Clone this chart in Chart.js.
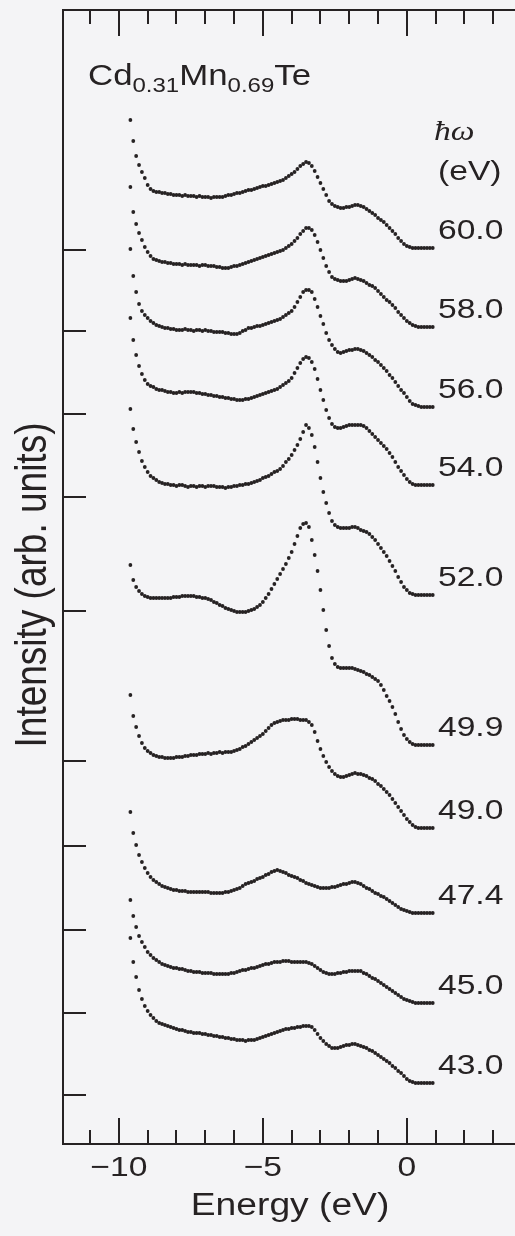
<!DOCTYPE html>
<html>
<head>
<meta charset="utf-8">
<script src="https://cdn.jsdelivr.net/npm/chart.js@4.4.1/dist/chart.umd.min.js"></script>
<style>
  html, body { margin: 0; padding: 0; background: #f4f4f6; overflow: hidden; }
  canvas { display: block; }
</style>
</head>
<body>
<canvas id="c" width="515" height="1236"></canvas>
<script>
// Binding energy grid (eV), shared by all spectra
const energies = [
  -9.6,-9.5,-9.4,-9.3,-9.2,-9.1,-9.0,-8.9,-8.8,-8.7,
  -8.6,-8.5,-8.4,-8.3,-8.2,-8.1,-8.0,-7.9,-7.8,-7.7,
  -7.6,-7.5,-7.4,-7.3,-7.2,-7.1,-7.0,-6.9,-6.8,-6.7,
  -6.6,-6.5,-6.4,-6.3,-6.2,-6.1,-6.0,-5.9,-5.8,-5.7,
  -5.6,-5.5,-5.4,-5.3,-5.2,-5.1,-5.0,-4.9,-4.8,-4.7,
  -4.6,-4.5,-4.4,-4.3,-4.2,-4.1,-4.0,-3.9,-3.8,-3.7,
  -3.6,-3.5,-3.4,-3.3,-3.2,-3.1,-3.0,-2.9,-2.8,-2.7,
  -2.6,-2.5,-2.4,-2.3,-2.2,-2.1,-2.0,-1.9,-1.8,-1.7,
  -1.6,-1.5,-1.4,-1.3,-1.2,-1.1,-1.0,-0.9,-0.8,-0.7,
  -0.6,-0.5,-0.4,-0.3,-0.2,-0.1,0.0,0.1,0.2,0.3,
  0.4,0.5,0.6,0.7,0.8,0.9
];

// Photon energies (eV) of each spectrum, top to bottom
const photonEnergies = ['60.0','58.0','56.0','54.0','52.0','49.9','49.0','47.4','45.0','43.0'];

// Vertical offset (zero level) of each spectrum, arb. units
const offsets = [894, 813, 730, 647, 533, 383, 298, 214, 131, 49];

// Photoemission intensity above each zero level, arb. units
const I60 = [
  130,109,94,85,78,72,65,61,59,58, 58,57,57,56,56,55,55,55,54,55,
  54,54,54,53,54,53,53,53,52,53, 53,53,53,54,55,55,56,57,57,58,
  59,60,60,61,62,63,64,64,65,66, 67,68,69,70,72,74,76,78,81,84,
  86,88,87,84,79,73,67,61,55,49, 46,44,43,42,42,43,43,44,45,45,
  44,43,41,39,37,35,32,30,28,25, 22,19,16,12,9,6,4,3,2,2,
  2,2,2,2,2,2
];
const I58 = [
  144,119,107,98,91,84,79,75,72,71, 70,69,69,68,68,67,67,67,66,67,
  66,66,66,66,65,66,66,65,65,65, 64,64,63,63,63,64,65,65,66,67,
  68,69,70,71,72,73,74,75,76,77, 78,79,80,81,83,85,87,90,93,97,
  100,103,103,101,96,89,81,73,65,59, 54,52,51,50,50,50,51,52,53,52,
  51,50,48,46,45,43,40,37,34,31, 29,26,23,19,16,13,10,8,6,5,
  4,4,4,4,4,4
];
const I56 = [
  165,138,122,110,103,99,96,93,91,89, 88,87,86,86,85,85,84,84,84,85,
  84,84,83,84,84,83,84,83,83,82, 82,82,82,81,81,80,80,80,81,83,
  84,86,86,87,88,88,89,90,91,92, 93,94,95,97,99,101,103,107,112,117,
  122,124,124,122,115,107,98,90,81,74, 69,65,62,61,62,63,64,64,65,65,
  64,63,61,59,57,54,52,49,46,43, 39,36,32,28,24,21,17,13,10,9,
  8,7,7,7,7,7
];
const I54 = [
  179,157,142,131,123,117,113,111,110,108, 107,107,106,105,105,104,104,105,104,105,
  105,105,105,104,104,103,103,102,102,101, 101,100,100,99,99,98,98,97,97,97,
  98,98,99,100,101,102,103,104,105,106, 107,108,110,112,114,116,119,124,129,134,
  138,140,139,135,128,118,107,97,87,79, 73,70,69,69,70,71,72,72,72,72,
  72,71,69,66,63,60,57,54,51,48, 44,40,35,30,26,22,18,15,13,12,
  12,12,12,12,12,12
];
const I52 = [
  202,182,169,159,150,144,139,135,133,131, 129,128,127,127,126,126,125,126,126,125,
  124,125,125,124,125,125,124,125,125,125, 124,124,124,123,124,124,125,125,126,126,
  127,127,128,129,130,131,133,134,135,137, 139,140,142,145,149,152,156,161,166,172,
  179,186,183,176,164,149,133,119,108,98, 90,86,84,83,83,83,83,84,84,83,
  81,80,79,77,74,71,67,63,59,55, 50,45,40,34,29,24,21,18,17,16,
  16,16,16,16,16,16
];
const I499 = [
  196,181,174,170,167,165,164,163,163,163, 163,163,163,163,163,164,164,164,165,165,
  165,165,165,164,164,163,163,162,161,159, 158,156,155,153,152,151,150,149,149,149,
  149,150,151,152,154,156,159,163,167,172, 177,182,187,192,197,203,209,217,225,233,
  237,238,234,221,206,190,171,151,131,115, 103,97,94,93,93,93,93,93,92,91,
  90,89,87,86,84,82,80,76,71,65, 60,54,47,39,32,26,22,19,17,16,
  16,16,16,16,16,16
];
const I490 = [
  151,130,119,110,103,98,95,93,91,90, 89,89,88,88,88,88,89,89,89,90,
  90,91,91,91,92,92,92,93,92,93, 93,94,93,94,94,94,95,96,97,99,
  100,102,104,106,108,110,112,115,118,121, 123,124,125,126,126,126,127,127,127,126,
  126,126,124,121,114,105,97,90,84,79, 75,72,70,69,69,70,71,72,73,72,
  72,71,70,68,67,65,62,60,57,54, 51,47,43,39,35,31,27,24,21,19,
  18,18,18,18,18,18
];
const I474 = [
  118,97,85,75,68,62,57,53,50,48, 46,44,43,42,41,40,40,39,39,39,
  38,38,38,38,38,38,38,38,37,37, 37,37,37,38,38,39,40,41,42,44,
  46,47,48,49,51,52,53,55,56,58, 59,60,59,58,57,55,54,53,52,50,
  49,47,46,45,44,43,42,42,42,42, 43,43,44,45,46,46,47,48,48,47,
  46,44,42,41,39,37,36,34,33,31, 29,27,25,23,21,20,19,18,17,17,
  17,17,17,17,17,17
];
const I450 = [
  113,97,86,77,71,66,61,58,55,53, 51,49,48,47,46,45,45,44,44,43,
  42,42,41,41,41,40,40,40,40,39, 39,39,39,39,39,40,40,41,42,43,
  43,44,45,45,46,47,48,49,49,50, 51,51,51,52,52,52,51,51,51,51,
  51,51,50,49,47,45,43,41,40,39, 39,39,40,40,41,41,42,42,42,42,
  42,40,39,37,35,34,32,30,28,26, 24,22,20,18,16,14,13,12,11,10,
  10,10,10,10,10,10
];
const I430 = [
  157,133,118,105,96,89,84,80,77,74, 72,71,70,69,68,67,66,65,65,64,
  63,63,62,62,62,61,61,60,60,59, 59,58,58,57,57,56,56,55,55,55,
  54,55,55,55,56,57,58,59,60,61, 62,63,64,65,66,66,67,67,68,68,
  69,69,69,68,65,61,57,54,51,49, 47,47,47,48,49,50,50,51,51,50,
  49,48,47,45,44,42,40,38,36,34, 32,29,27,24,22,19,16,14,13,12,
  12,12,12,12,12,12
];

const spectra = [I60, I58, I56, I54, I52, I499, I490, I474, I450, I430];

// Axis ticks
const xMajorTicks = [-10, -5, 0];
const xTickLabels = ['\u221210', '\u22125', '0'];
const xMinorTicks = [-11, -9, -8, -7, -6, -4, -3, -2, -1, 1, 2, 3];

const INK = '#262223';
const SANS = '"Liberation Sans", Arial, Helvetica, sans-serif';
const SERIF = '"Liberation Serif", "Times New Roman", serif';
const SX = 1.2; // horizontal stretch of the lettering

function drawText(ctx, str, x, y, font, align) {
  ctx.save();
  ctx.font = font;
  ctx.textBaseline = 'alphabetic';
  ctx.textAlign = 'left';
  const w = ctx.measureText(str).width * SX;
  let x0 = x;
  if (align === 'center') x0 = x - w / 2;
  else if (align === 'right') x0 = x - w;
  ctx.translate(x0, y);
  ctx.scale(SX, 1);
  ctx.fillText(str, 0, 0);
  ctx.restore();
  return w;
}

const decorations = {
  id: 'decorations',
  beforeDraw(chart) {
    const ctx = chart.ctx;
    ctx.save();
    ctx.fillStyle = '#f4f4f6';
    ctx.fillRect(0, 0, chart.width, chart.height);
    ctx.restore();
  },
  afterDraw(chart) {
    const { ctx, chartArea: a } = chart;
    const xs = chart.scales.x, ys = chart.scales.y;
    ctx.save();
    ctx.strokeStyle = INK;
    ctx.fillStyle = INK;
    ctx.lineWidth = 2;
    ctx.lineCap = 'butt';

    // open frame: top, left, bottom
    ctx.beginPath();
    ctx.moveTo(a.right + 4, a.top);
    ctx.lineTo(a.left, a.top);
    ctx.lineTo(a.left, a.bottom);
    ctx.lineTo(a.right + 4, a.bottom);
    ctx.stroke();

    // inward ticks on top and bottom
    const tick = (v, len) => {
      const px = Math.round(xs.getPixelForValue(v));
      ctx.beginPath();
      ctx.moveTo(px, a.bottom); ctx.lineTo(px, a.bottom - len);
      ctx.moveTo(px, a.top); ctx.lineTo(px, a.top + len);
      ctx.stroke();
    };
    xMajorTicks.forEach(v => tick(v, 26));
    xMinorTicks.forEach(v => tick(v, 14));

    // zero-level ticks on the left
    offsets.forEach(v => {
      const py = Math.round(ys.getPixelForValue(v));
      ctx.beginPath();
      ctx.moveTo(a.left, py); ctx.lineTo(a.left + 23, py);
      ctx.stroke();
    });

    // x tick labels and title
    xMajorTicks.forEach((v, i) => {
      drawText(ctx, xTickLabels[i], xs.getPixelForValue(v), a.bottom + 32, '28px ' + SANS, 'center');
    });
    drawText(ctx, 'Energy (eV)', (a.left + a.right) / 2 + 2, a.bottom + 71, '31px ' + SANS, 'center');

    // y title
    ctx.save();
    ctx.translate(46, 585);
    ctx.rotate(-Math.PI / 2);
    ctx.font = '37px ' + SANS;
    ctx.textAlign = 'center';
    ctx.textBaseline = 'alphabetic';
    ctx.scale(1, SX);
    ctx.fillText('Intensity (arb. units)', 0, 0);
    ctx.restore();

    // sample composition
    let x = 88;
    const base = 85;
    x += drawText(ctx, 'Cd', x, base, '29px ' + SANS);
    x += drawText(ctx, '0.31', x, base + 7, '20px ' + SANS);
    x += drawText(ctx, 'Mn', x, base, '29px ' + SANS);
    x += drawText(ctx, '0.69', x, base + 7, '20px ' + SANS);
    drawText(ctx, 'Te', x, base, '29px ' + SANS);

    // photon energy column header
    drawText(ctx, '\u0127\u03c9', 434, 140, 'italic 28px ' + SERIF);
    drawText(ctx, '(eV)', 438, 180, '28px ' + SANS);

    // photon energy labels at the right end of each spectrum
    spectra.forEach((vals, k) => {
      const last = vals.length - 1;
      const py = ys.getPixelForValue(offsets[k] + vals[last]);
      drawText(ctx, photonEnergies[k], 438, py - 9, '28px ' + SANS);
    });
    ctx.restore();
  }
};

const datasets = spectra.map((vals, k) => ({
  label: photonEnergies[k],
  data: energies.map((e, i) => ({ x: e, y: offsets[k] + vals[i] })),
  showLine: false,
  pointRadius: 1.9,
  pointHoverRadius: 1.9,
  pointBorderWidth: 0,
  pointBackgroundColor: INK,
  pointBorderColor: INK
}));

new Chart(document.getElementById('c'), {
  type: 'scatter',
  data: { datasets },
  options: {
    responsive: false,
    animation: false,
    devicePixelRatio: 1,
    layout: { padding: { left: 63, top: 10, right: 0, bottom: 92 } },
    plugins: { legend: { display: false }, tooltip: { enabled: false } },
    scales: {
      x: { type: 'linear', min: -11.94, max: 3.69, display: false },
      y: { type: 'linear', min: 0, max: 1134, display: false }
    }
  },
  plugins: [decorations]
});
</script>
</body>
</html>
